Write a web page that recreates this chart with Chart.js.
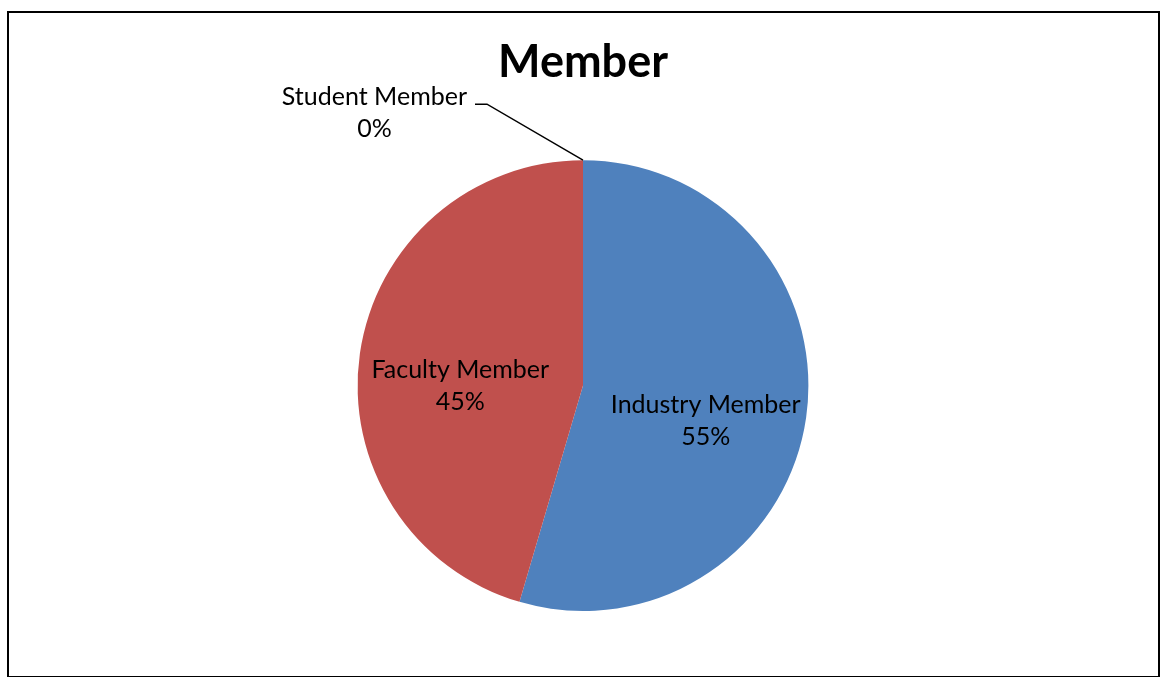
<!DOCTYPE html>
<html>
<head>
<meta charset="utf-8">
<script src="https://cdn.jsdelivr.net/npm/chart.js@4/dist/chart.umd.min.js"></script>
<style>
  html, body { margin: 0; padding: 0; background: #fff; }
  #wrap { width: 1160px; height: 677px; position: relative; }
</style>
</head>
<body>
<div id="wrap"><canvas id="c" width="1160" height="677"></canvas></div>
<script>
const categories = ["Industry Member", "Faculty Member", "Student Member"];
const values = [6, 5, 0];
const colors = ["#4F81BD", "#C0504D", "#9BBB59"];
const titleText = "Member";

const frame = {
  id: 'frame',
  afterDraw(chart) {
    const ctx = chart.ctx;
    ctx.save();
    ctx.strokeStyle = '#000';
    ctx.lineWidth = 2;
    ctx.strokeRect(8, 12, 1151, 665);
    ctx.restore();
  }
};

const labels = {
  id: 'pieLabels',
  afterDatasetsDraw(chart) {
    const ctx = chart.ctx;
    const meta = chart.getDatasetMeta(0);
    const total = values.reduce((a, b) => a + b, 0);
    ctx.save();
    ctx.font = '25px Lato';
    ctx.fillStyle = '#000';
    ctx.textAlign = 'center';
    ctx.textBaseline = 'middle';
    const lh = 32;
    meta.data.forEach((arc, i) => {
      const p = arc.getProps(['x', 'y', 'startAngle', 'endAngle', 'outerRadius'], true);
      const pct = Math.round(values[i] / total * 100) + '%';
      if (values[i] > 0) {
        const mid = (p.startAngle + p.endAngle) / 2;
        const r = p.outerRadius;
        const lx = p.x + Math.cos(mid) * r * 0.55;
        const ly = p.y + Math.sin(mid) * r * 0.55 + r * 0.08;
        ctx.fillText(categories[i], lx, ly - lh / 2);
        ctx.fillText(pct, lx, ly + lh / 2);
      } else {
        const a = p.startAngle;
        const ax = p.x + Math.cos(a) * p.outerRadius;
        const ay = p.y + Math.sin(a) * p.outerRadius;
        const ex = ax - 96, ey = ay - 56;
        ctx.strokeStyle = '#000';
        ctx.lineWidth = 1.5;
        ctx.beginPath();
        ctx.moveTo(ax, ay);
        ctx.lineTo(ex, ey);
        ctx.lineTo(ex - 12, ey);
        ctx.stroke();
        const tw = ctx.measureText(categories[i]).width;
        const tx = ex - 12 - 8 - tw / 2;
        ctx.fillText(categories[i], tx, ey - 7);
        ctx.fillText(pct, tx, ey - 7 + lh);
      }
    });
    ctx.restore();
  }
};

new Chart(document.getElementById('c'), {
  type: 'pie',
  data: {
    labels: categories,
    datasets: [{
      data: values,
      backgroundColor: colors,
      borderWidth: 0
    }]
  },
  options: {
    responsive: false,
    animation: false,
    layout: { padding: { left: 6, right: 0, top: 10, bottom: 66 } },
    plugins: {
      legend: { display: false },
      tooltip: { enabled: false },
      title: {
        display: true,
        text: titleText,
        color: '#000',
        font: { family: 'Lato', size: 45, weight: 'bold', lineHeight: 1.2 },
        padding: { top: 25.6, bottom: 70.6 }
      }
    }
  },
  plugins: [frame, labels]
});
</script>
</body>
</html>
